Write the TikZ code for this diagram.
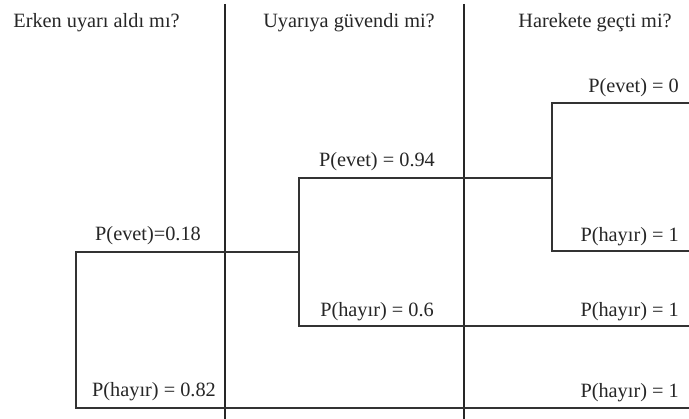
\documentclass[tikz,border=0pt]{standalone}
\usepackage{fontspec}
\setmainfont{Liberation Serif}
\begin{document}
\begin{tikzpicture}[x=1pt,y=-1pt,
  tree/.style={line width=1.3pt, draw=black!80},
  divider/.style={line width=1.3pt, draw=black!85},
  lbl/.style={inner sep=0pt, font=\fontsize{20.3pt}{24pt}\selectfont, text=black!85},
]
\useasboundingbox (0,0) rectangle (689,419);
% column dividers
\coordinate (d1t) at (225,4); \coordinate (d1b) at (225,419);
\coordinate (d2t) at (464,4); \coordinate (d2b) at (464,419);
\draw[divider] (d1t) -- (d1b);
\draw[divider] (d2t) -- (d2b);
% headers
\node[lbl, anchor=base] (h1) at (96.5,28) {Erken uyarı aldı mı?};
\node[lbl, anchor=base] (h2) at (349,28) {Uyarıya güvendi mi?};
\node[lbl, anchor=base] (h3) at (595,28) {Harekete geçti mi?};
% tree points
\coordinate (r1) at (76,252);
\coordinate (r2) at (76,408);
\coordinate (b1) at (299,252);
\coordinate (b1t) at (299,178);
\coordinate (b1b) at (299,326);
\coordinate (b2) at (552,178);
\coordinate (b2t) at (552,103);
\coordinate (b2b) at (552,251);
\coordinate (e1) at (689,103);
\coordinate (e2) at (689,251);
\coordinate (e3) at (689,326);
\coordinate (e4) at (689,408);
% tree lines
\draw[tree] (b1) -- (r1) -- (r2) -- (e4);
\draw[tree] (b2) -- (b1t) -- (b1b) -- (e3);
\draw[tree] (e1) -- (b2t) -- (b2b) -- (e2);
% labels
\node[lbl, anchor=base] (l1) at (148,241) {P(evet)=0.18};
\node[lbl, anchor=base] (l2) at (154,397) {P(hayır) = 0.82};
\node[lbl, anchor=base] (l3) at (377,167) {P(evet) = 0.94};
\node[lbl, anchor=base] (l4) at (377,317) {P(hayır) = 0.6};
\node[lbl, anchor=base east] (l5) at (679,93) {P(evet) = 0};
\node[lbl, anchor=base east] (l6) at (679,242) {P(hayır) = 1};
\node[lbl, anchor=base east] (l7) at (679,317) {P(hayır) = 1};
\node[lbl, anchor=base east] (l8) at (679,398) {P(hayır) = 1};
\end{tikzpicture}
\end{document}
